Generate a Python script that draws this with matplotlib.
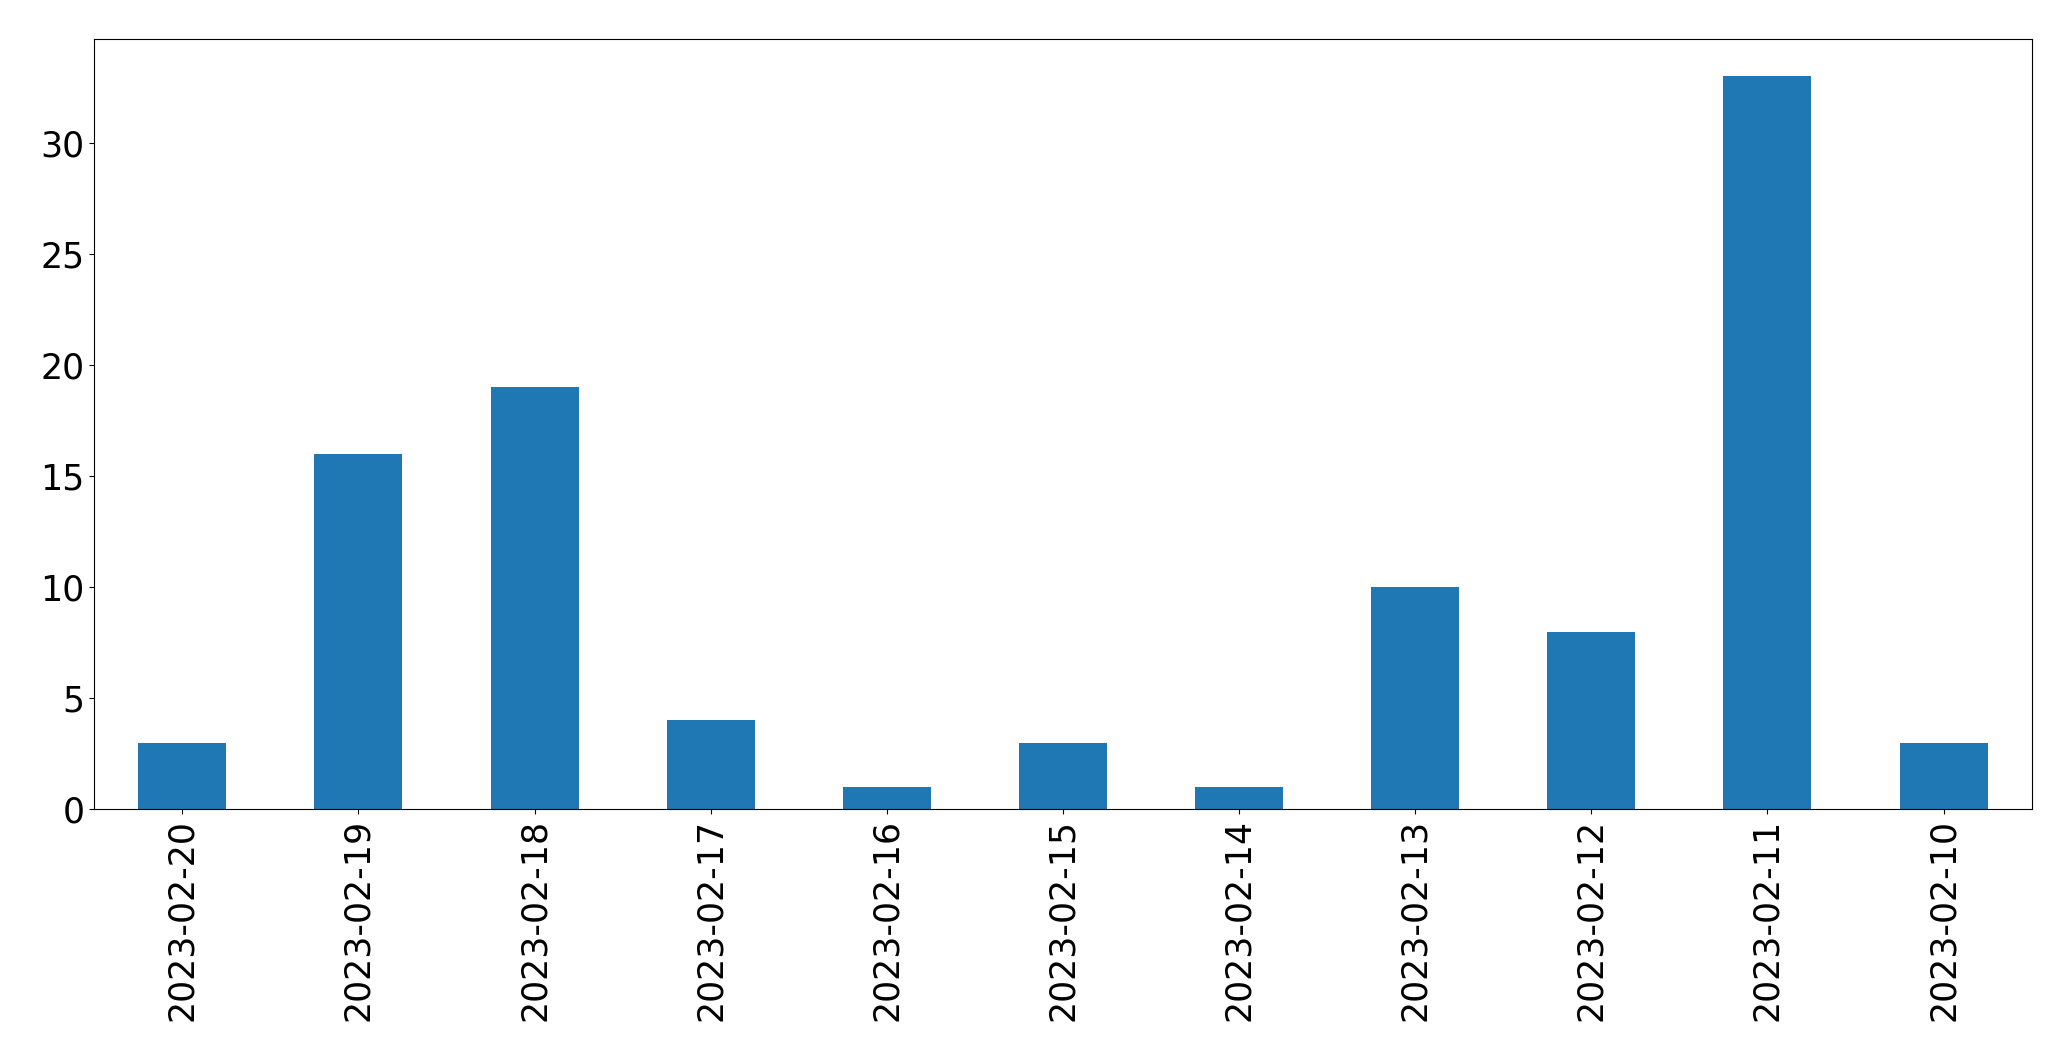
import matplotlib
matplotlib.use("Agg")
import matplotlib.pyplot as plt

dates = ["2023-02-20", "2023-02-19", "2023-02-18", "2023-02-17", "2023-02-16",
         "2023-02-15", "2023-02-14", "2023-02-13", "2023-02-12", "2023-02-11",
         "2023-02-10"]
counts = [3, 16, 19, 4, 1, 3, 1, 10, 8, 33, 3]

fig = plt.figure(figsize=(20.71, 10.61), dpi=100)
ax = fig.add_axes([0.0455, 0.2372, 0.981 - 0.0455, 0.963 - 0.2372])

pos = list(range(len(dates)))
ax.bar(pos, counts, width=0.5, color="#1f77b4")
ax.set_xlim(-0.5, len(dates) - 0.5)
ax.set_xticks(pos)
ax.set_xticklabels(dates, rotation=90)
ax.tick_params(axis="both", labelsize=25)

fig.savefig("out.png", dpi=100)
